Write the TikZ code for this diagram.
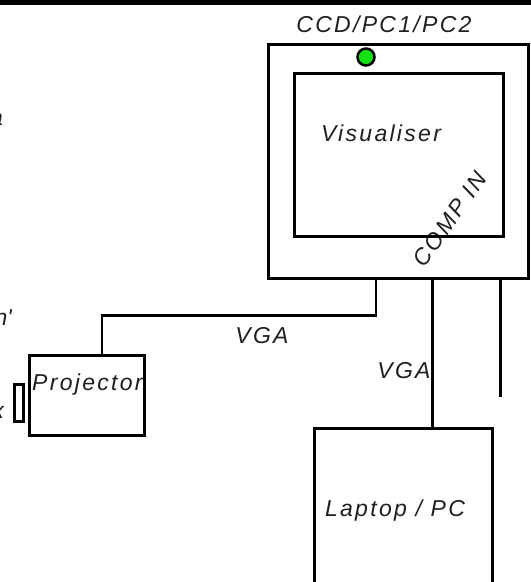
\documentclass[tikz,border=0pt]{standalone}
\usepackage{fontspec}
\newfontfamily\lblfont[LetterSpace=10]{Liberation Sans}
\newfontfamily\edgefont{Liberation Sans}
\usepackage{xcolor}
\usetikzlibrary{positioning}
\definecolor{ledgreen}{RGB}{20,225,20}

\begin{document}
\begin{tikzpicture}[x=1pt, y=-1pt,
  unit/.style={draw, line width=3pt, inner sep=0pt, outer sep=0pt},
  wire/.style={line width=2.8pt},
  lbl/.style={font=\lblfont\itshape\fontsize{23}{27}\selectfont, text=black!88, inner sep=0pt},
  cut/.style={font=\edgefont\itshape\fontsize{23}{27}\selectfont, text=black!88, inner sep=0pt, anchor=base east}]
  \useasboundingbox (0,0) rectangle (531,582);
  \clip (0,0) rectangle (531,582);
  \fill (0,0) rectangle (531,4.5);
  % text labels
  \node[lbl, anchor=base] (ccdlbl) at (384,32.5) {CCD/PC1/PC2};
  \node[lbl, anchor=base] (vislbl) at (381,141) {Visualiser};
  \node[lbl, anchor=base west] (projlbl) at (32,390) {Projector};
  \node[lbl, anchor=base] (vgaleft) at (262,343) {VGA};
  \node[lbl, anchor=base] (vgaright) at (404,378) {VGA};
  \node[lbl, anchor=base] (laplbl) at (395,516) {Laptop / PC};
  \node[lbl, rotate=55] (complbl) at (450,219) {COMP IN};
  \foreach \t/\x/\y/\n in {a/3/125/cuta, n'/12/325/cutb, x/4/418/cutc}
    \node[cut] (\n) at (\x,\y) {\t};
  % units
  \node[unit, minimum width=260pt, minimum height=234pt] (vis) at (398.5,161.5) {};
  \node[unit, minimum width=209pt, minimum height=163pt] (screen) at (399.2,154.5) {};
  \node[unit, circle, fill=ledgreen, line width=2.5pt, minimum size=17pt] (led) at (366,57) {};
  \node[unit, minimum width=115.4pt, minimum height=80pt] (proj) at (87,395) {};
  \node[unit, minimum width=9pt, minimum height=36.5pt] (lens) at (18.8,403) {};
  \node[unit, minimum width=177.3pt, minimum height=180pt, anchor=north] (lap) at (403.4,428.7) {};
  % cables
  \coordinate (projin) at ([xshift=15pt]proj.north);
  \coordinate (lapin) at ([xshift=29.3pt]lap.north);
  \coordinate (spare) at (500.7,397);
  \draw[wire] ([xshift=-22.5pt]vis.south) -- ++(0,37) -| (projin);
  \draw[wire] (vis.south -| lapin) -- (lapin);
  \draw[wire] (vis.south -| spare) -- (spare);
\end{tikzpicture}
\end{document}
